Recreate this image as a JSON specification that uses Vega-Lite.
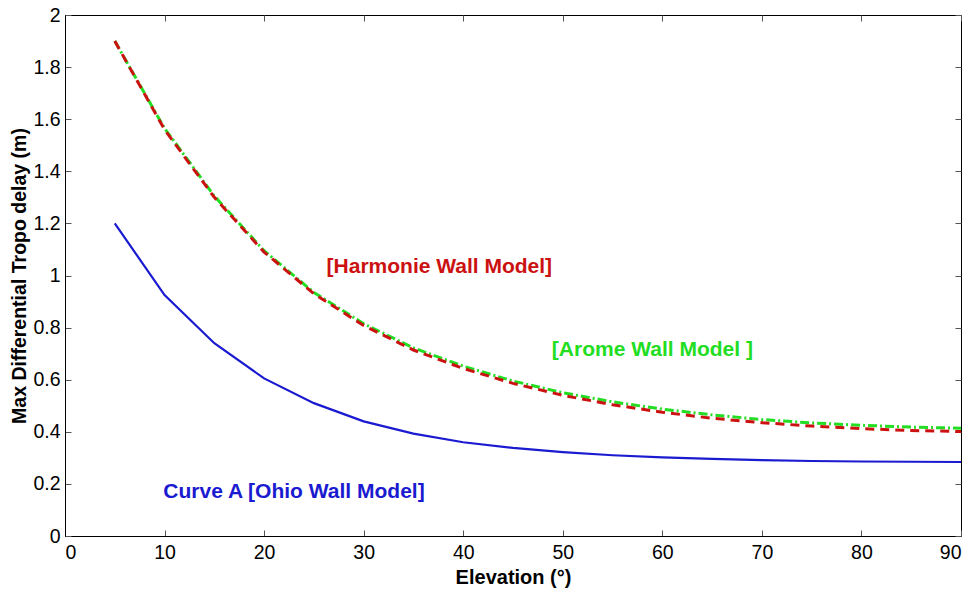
{
  "$schema": "https://vega.github.io/schema/vega-lite/v6.json",
  "width": 896,
  "height": 521,
  "autosize": {"type": "none"},
  "padding": {"left": 65, "top": 15, "right": 14, "bottom": 54},
  "background": "white",
  "config": {
    "view": {"stroke": "black", "strokeWidth": 1},
    "font": "Liberation Sans",
    "axis": {
      "grid": false,
      "domainColor": "black",
      "tickColor": "#555",
      "tickSize": -6,
      "labelFont": "Liberation Sans",
      "labelFontSize": 19.5,
      "labelColor": "black",
      "titleFont": "Liberation Sans",
      "titleFontWeight": "bold",
      "titleColor": "black"
    }
  },
  "datasets": {
    "curves": [
      {"elev": 5, "delay": 1.2, "model": "Ohio"},
      {"elev": 10, "delay": 0.925, "model": "Ohio"},
      {"elev": 15, "delay": 0.74, "model": "Ohio"},
      {"elev": 20, "delay": 0.605, "model": "Ohio"},
      {"elev": 25, "delay": 0.51, "model": "Ohio"},
      {"elev": 30, "delay": 0.44, "model": "Ohio"},
      {"elev": 35, "delay": 0.393, "model": "Ohio"},
      {"elev": 40, "delay": 0.36, "model": "Ohio"},
      {"elev": 45, "delay": 0.338, "model": "Ohio"},
      {"elev": 50, "delay": 0.322, "model": "Ohio"},
      {"elev": 55, "delay": 0.31, "model": "Ohio"},
      {"elev": 60, "delay": 0.302, "model": "Ohio"},
      {"elev": 65, "delay": 0.296, "model": "Ohio"},
      {"elev": 70, "delay": 0.291, "model": "Ohio"},
      {"elev": 75, "delay": 0.288, "model": "Ohio"},
      {"elev": 80, "delay": 0.286, "model": "Ohio"},
      {"elev": 85, "delay": 0.285, "model": "Ohio"},
      {"elev": 90, "delay": 0.284, "model": "Ohio"},
      {"elev": 5, "delay": 1.9, "model": "Arome"},
      {"elev": 10, "delay": 1.565, "model": "Arome"},
      {"elev": 15, "delay": 1.305, "model": "Arome"},
      {"elev": 20, "delay": 1.095, "model": "Arome"},
      {"elev": 25, "delay": 0.935, "model": "Arome"},
      {"elev": 30, "delay": 0.815, "model": "Arome"},
      {"elev": 35, "delay": 0.722, "model": "Arome"},
      {"elev": 40, "delay": 0.652, "model": "Arome"},
      {"elev": 45, "delay": 0.595, "model": "Arome"},
      {"elev": 50, "delay": 0.55, "model": "Arome"},
      {"elev": 55, "delay": 0.515, "model": "Arome"},
      {"elev": 60, "delay": 0.487, "model": "Arome"},
      {"elev": 65, "delay": 0.465, "model": "Arome"},
      {"elev": 70, "delay": 0.447, "model": "Arome"},
      {"elev": 75, "delay": 0.434, "model": "Arome"},
      {"elev": 80, "delay": 0.425, "model": "Arome"},
      {"elev": 85, "delay": 0.418, "model": "Arome"},
      {"elev": 90, "delay": 0.414, "model": "Arome"},
      {"elev": 5, "delay": 1.9, "model": "Harmonie"},
      {"elev": 10, "delay": 1.56, "model": "Harmonie"},
      {"elev": 15, "delay": 1.3, "model": "Harmonie"},
      {"elev": 20, "delay": 1.09, "model": "Harmonie"},
      {"elev": 25, "delay": 0.93, "model": "Harmonie"},
      {"elev": 30, "delay": 0.808, "model": "Harmonie"},
      {"elev": 35, "delay": 0.714, "model": "Harmonie"},
      {"elev": 40, "delay": 0.643, "model": "Harmonie"},
      {"elev": 45, "delay": 0.586, "model": "Harmonie"},
      {"elev": 50, "delay": 0.54, "model": "Harmonie"},
      {"elev": 55, "delay": 0.504, "model": "Harmonie"},
      {"elev": 60, "delay": 0.475, "model": "Harmonie"},
      {"elev": 65, "delay": 0.452, "model": "Harmonie"},
      {"elev": 70, "delay": 0.435, "model": "Harmonie"},
      {"elev": 75, "delay": 0.422, "model": "Harmonie"},
      {"elev": 80, "delay": 0.412, "model": "Harmonie"},
      {"elev": 85, "delay": 0.405, "model": "Harmonie"},
      {"elev": 90, "delay": 0.401, "model": "Harmonie"}
    ],
    "labels": [
      {"elev": 37.6, "delay": 1.033, "text": "[Harmonie Wall Model]", "model": "Harmonie"},
      {"elev": 59.0, "delay": 0.714, "text": "[Arome Wall Model ]", "model": "Arome"},
      {"elev": 23.0, "delay": 0.169, "text": "Curve A [Ohio Wall Model]", "model": "Ohio"}
    ]
  },
  "resolve": {"axis": {"x": "independent", "y": "independent"}},
  "layer": [
    {
      "data": {"name": "curves"},
      "transform": [{"filter": "datum.model === 'Ohio'"}],
      "mark": {"type": "line", "color": "#1a1ad0", "strokeWidth": 2.2},
      "encoding": {
        "x": {"field": "elev", "type": "quantitative", "scale": {"domain": [0, 90], "nice": false},
              "axis": {"title": "Elevation (°)", "titleFontSize": 20, "format": "d", "values": [0,10,20,30,40,50,60,70,80,90], "labelPadding": 13, "titlePadding": 6}},
        "y": {"field": "delay", "type": "quantitative", "scale": {"domain": [0, 2], "nice": false, "zero": true},
              "axis": {"title": "Max Differential Tropo delay (m)", "titleFontSize": 19.5, "format": "~g", "values": [0,0.2,0.4,0.6,0.8,1,1.2,1.4,1.6,1.8,2], "labelPadding": 11, "titlePadding": 3}}
      }
    },
    {
      "data": {"name": "curves"},
      "transform": [{"filter": "datum.model === 'Arome'"}],
      "mark": {"type": "line", "color": "#22dd22", "strokeWidth": 3, "strokeDash": [9, 3, 2, 3]},
      "encoding": {
        "x": {"field": "elev", "type": "quantitative", "axis": {"orient": "top", "labels": false, "title": null, "values": [0,10,20,30,40,50,60,70,80,90], "domain": false}},
        "y": {"field": "delay", "type": "quantitative", "axis": {"orient": "right", "labels": false, "title": null, "values": [0,0.2,0.4,0.6,0.8,1,1.2,1.4,1.6,1.8,2], "domain": false}}
      }
    },
    {
      "data": {"name": "curves"},
      "transform": [{"filter": "datum.model === 'Harmonie'"}],
      "mark": {"type": "line", "color": "#cc1111", "strokeWidth": 3, "strokeDash": [9, 6]},
      "encoding": {
        "x": {"field": "elev", "type": "quantitative", "axis": null},
        "y": {"field": "delay", "type": "quantitative", "axis": null}
      }
    },
    {
      "data": {"name": "labels"},
      "mark": {"type": "text", "fontWeight": "bold", "fontSize": 21, "font": "Liberation Sans", "align": "center", "baseline": "middle"},
      "encoding": {
        "x": {"field": "elev", "type": "quantitative", "axis": null},
        "y": {"field": "delay", "type": "quantitative", "axis": null},
        "text": {"field": "text"},
        "color": {"field": "model", "type": "nominal", "scale": {"domain": ["Harmonie", "Arome", "Ohio"], "range": ["#cc1111", "#22dd22", "#1a1ad0"]}, "legend": null}
      }
    }
  ]
}
